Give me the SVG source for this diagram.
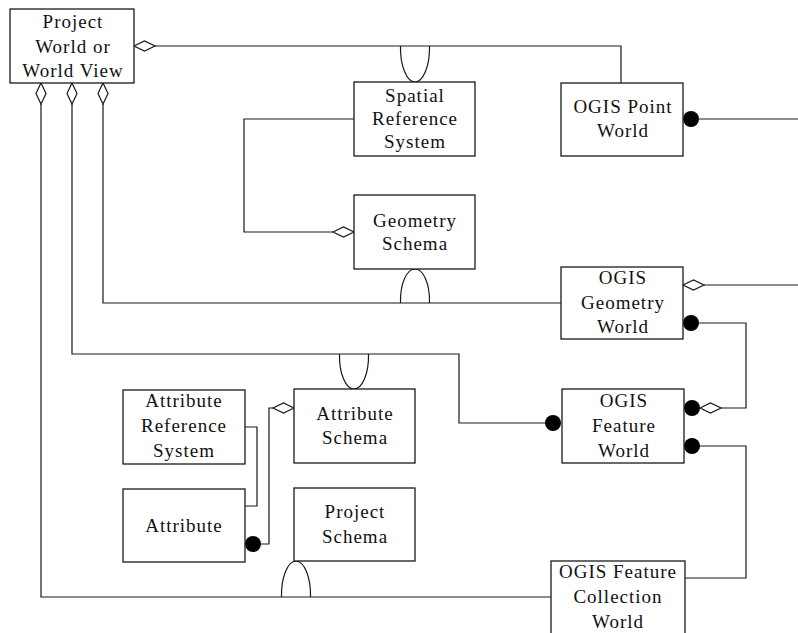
<svg xmlns="http://www.w3.org/2000/svg" xmlns:xlink="http://www.w3.org/1999/xlink" width="798" height="633" viewBox="0 0 798 633">
  <style>
    .box { fill: #ffffff; stroke: #1a1a1a; stroke-width: 1.3; }
    .lbl { font-family: "Liberation Serif", "Times New Roman", serif; font-size: 19px; letter-spacing: 1px; fill: #111111; text-anchor: middle; }
    .wire { fill: none; stroke: #1a1a1a; stroke-width: 1.2; }
    .dia { fill: #ffffff; stroke: #1a1a1a; stroke-width: 1.2; }
    .dot { fill: #000000; }
  </style>
  <defs>
    <!-- aggregation diamond, pointing along +x, 21 long -->
    <path id="diamond" d="M0,0 L10.5,-5 L21,0 L10.5,5 Z"/>
    <circle id="blob" r="8"/>
  </defs>

  <rect width="798" height="633" fill="#ffffff"/>

  <g id="connectors">
    <!-- Project World to OGIS Point World -->
    <path class="wire" d="M155,46 H621 V83"/>
    <use href="#diamond" class="dia" x="134" y="46"/>

    <!-- Project World to OGIS Feature Collection World -->
    <path class="wire" d="M41,104 V597 H551"/>
    <use href="#diamond" class="dia" transform="translate(41,83) rotate(90)"/>

    <!-- Project World to OGIS Feature World -->
    <path class="wire" d="M72,104 V354 H459 V423 H545"/>
    <use href="#diamond" class="dia" transform="translate(72,83) rotate(90)"/>
    <use href="#blob" class="dot" x="553" y="423"/>

    <!-- Project World to OGIS Geometry World -->
    <path class="wire" d="M103,104 V303 H561"/>
    <use href="#diamond" class="dia" transform="translate(103,83) rotate(90)"/>

    <!-- arches on the long lines -->
    <path class="wire" d="M400.5,46 C400,66 407,82 415,82 C423,82 430,66 429.5,46"/>
    <path class="wire" d="M400.5,303 C400,283 407,269 415,269 C423,269 430,283 429.5,303"/>
    <path class="wire" d="M339.5,354 C339,374 346,389 354,389 C362,389 369,374 368.5,354"/>
    <path class="wire" d="M281.5,597 C281,577 288,561 296,561 C304,561 311,577 310.5,597"/>

    <!-- Spatial Reference System to Geometry Schema -->
    <path class="wire" d="M354,119 H244 V232 H333"/>
    <use href="#diamond" class="dia" x="333" y="232"/>

    <!-- OGIS Point World outward -->
    <use href="#blob" class="dot" x="691" y="119"/>
    <path class="wire" d="M699,119 H798"/>

    <!-- OGIS Geometry World outward -->
    <use href="#diamond" class="dia" x="683" y="285"/>
    <path class="wire" d="M704,285 H798"/>

    <!-- OGIS Geometry World to OGIS Feature World -->
    <use href="#blob" class="dot" x="691" y="323"/>
    <path class="wire" d="M699,323 H746 V408 H721"/>
    <use href="#diamond" class="dia" x="700" y="408"/>
    <use href="#blob" class="dot" x="692" y="408"/>

    <!-- OGIS Feature World to OGIS Feature Collection World -->
    <use href="#blob" class="dot" x="692" y="446"/>
    <path class="wire" d="M700,446 H746 V578 H685"/>

    <!-- Attribute Reference System to Attribute -->
    <path class="wire" d="M245,427 H257 V506 H245"/>

    <!-- Attribute to Attribute Schema -->
    <use href="#blob" class="dot" x="253" y="544"/>
    <path class="wire" d="M261,544 H269 V408 H273"/>
    <use href="#diamond" class="dia" x="273" y="408"/>
  </g>

  <g id="project-world">
    <rect class="box" x="10" y="9" width="124" height="74"/>
    <text class="lbl" x="73" y="28">Project</text>
    <text class="lbl" x="73" y="53">World or</text>
    <text class="lbl" x="73" y="77">World View</text>
  </g>

  <g id="spatial-reference-system">
    <rect class="box" x="354" y="82" width="121" height="74"/>
    <text class="lbl" x="415" y="102">Spatial</text>
    <text class="lbl" x="415" y="125">Reference</text>
    <text class="lbl" x="415" y="148">System</text>
  </g>

  <g id="geometry-schema">
    <rect class="box" x="354" y="195" width="121" height="74"/>
    <text class="lbl" x="415" y="227">Geometry</text>
    <text class="lbl" x="415" y="250">Schema</text>
  </g>

  <g id="ogis-point-world">
    <rect class="box" x="561" y="83" width="122" height="73"/>
    <text class="lbl" x="623" y="113">OGIS Point</text>
    <text class="lbl" x="623" y="137">World</text>
  </g>

  <g id="ogis-geometry-world">
    <rect class="box" x="561" y="267" width="122" height="72"/>
    <text class="lbl" x="623" y="284">OGIS</text>
    <text class="lbl" x="623" y="309">Geometry</text>
    <text class="lbl" x="623" y="333">World</text>
  </g>

  <g id="ogis-feature-world">
    <rect class="box" x="562" y="389" width="122" height="74"/>
    <text class="lbl" x="624" y="407">OGIS</text>
    <text class="lbl" x="624" y="432">Feature</text>
    <text class="lbl" x="624" y="457">World</text>
  </g>

  <g id="ogis-feature-collection-world">
    <rect class="box" x="551" y="561" width="134" height="80"/>
    <text class="lbl" x="618" y="578">OGIS Feature</text>
    <text class="lbl" x="618" y="603">Collection</text>
    <text class="lbl" x="618" y="628">World</text>
  </g>

  <g id="attribute-reference-system">
    <rect class="box" x="123" y="390" width="122" height="74"/>
    <text class="lbl" x="184" y="407">Attribute</text>
    <text class="lbl" x="184" y="432">Reference</text>
    <text class="lbl" x="184" y="457">System</text>
  </g>

  <g id="attribute-schema">
    <rect class="box" x="294" y="389" width="121" height="74"/>
    <text class="lbl" x="355" y="420">Attribute</text>
    <text class="lbl" x="355" y="444">Schema</text>
  </g>

  <g id="attribute">
    <rect class="box" x="123" y="489" width="122" height="73"/>
    <text class="lbl" x="184" y="532">Attribute</text>
  </g>

  <g id="project-schema">
    <rect class="box" x="294" y="488" width="121" height="73"/>
    <text class="lbl" x="355" y="518">Project</text>
    <text class="lbl" x="355" y="543">Schema</text>
  </g>
</svg>
